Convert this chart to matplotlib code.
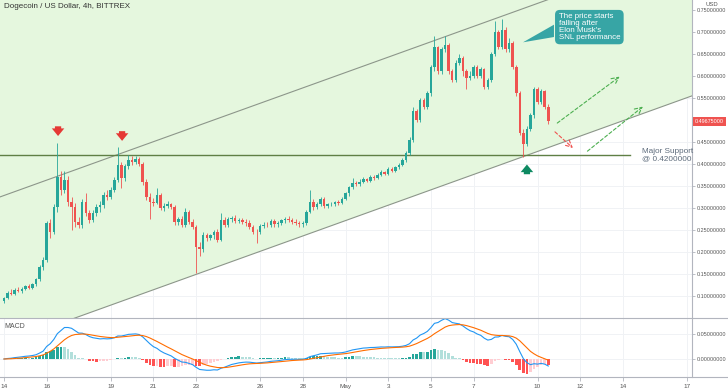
import matplotlib
matplotlib.use("Agg")
import matplotlib.pyplot as plt
import numpy as np
import pandas as pd
from matplotlib.lines import Line2D
from matplotlib.patches import Polygon
import matplotlib.transforms as mtransforms

plt.rcParams['font.family'] = ['Liberation Sans', 'DejaVu Sans']

# ---------------- data (4h candles, bar index 0 = Apr 14 00:00) ----------------
opens = [0.088, 0.095, 0.108, 0.105, 0.114, 0.112, 0.117, 0.122, 0.119, 0.127,
         0.138, 0.166, 0.182, 0.266, 0.245, 0.302, 0.370, 0.341, 0.364, 0.314,
         0.302, 0.268, 0.262, 0.314, 0.289, 0.273, 0.289, 0.302, 0.307, 0.330,
         0.325, 0.341, 0.364, 0.398, 0.368, 0.395, 0.409, 0.405, 0.412, 0.400,
         0.359, 0.325, 0.314, 0.312, 0.330, 0.300, 0.305, 0.308, 0.302, 0.268,
         0.274, 0.262, 0.290, 0.268, 0.257, 0.212, 0.208, 0.239, 0.232, 0.238,
         0.245, 0.228, 0.273, 0.262, 0.275, 0.278, 0.271, 0.273, 0.269, 0.266,
         0.257, 0.246, 0.245, 0.260, 0.262, 0.261, 0.270, 0.263, 0.266, 0.272,
         0.276, 0.272, 0.268, 0.266, 0.263, 0.266, 0.291, 0.314, 0.302, 0.310,
         0.321, 0.305, 0.308, 0.310, 0.313, 0.311, 0.321, 0.333, 0.347, 0.357,
         0.354, 0.360, 0.365, 0.362, 0.370, 0.368, 0.375, 0.382, 0.378, 0.388,
         0.385, 0.392, 0.398, 0.410, 0.425, 0.455, 0.520, 0.500, 0.545, 0.530,
         0.560, 0.620, 0.665, 0.610, 0.660, 0.670, 0.610, 0.590, 0.630, 0.640,
         0.610, 0.595, 0.600, 0.620, 0.600, 0.615, 0.575, 0.590, 0.650, 0.700,
         0.665, 0.705, 0.660, 0.675, 0.620, 0.560, 0.470, 0.445, 0.480, 0.510,
         0.570, 0.540, 0.565, 0.530]
closes = [0.095, 0.108, 0.105, 0.114, 0.112, 0.117, 0.122, 0.119, 0.127, 0.138,
          0.166, 0.182, 0.266, 0.245, 0.302, 0.370, 0.341, 0.364, 0.314, 0.302,
          0.268, 0.262, 0.314, 0.289, 0.273, 0.289, 0.302, 0.307, 0.330, 0.325,
          0.341, 0.364, 0.398, 0.368, 0.395, 0.409, 0.405, 0.412, 0.400, 0.359,
          0.325, 0.314, 0.312, 0.330, 0.300, 0.305, 0.308, 0.302, 0.268, 0.274,
          0.262, 0.290, 0.268, 0.257, 0.212, 0.208, 0.239, 0.232, 0.238, 0.245,
          0.228, 0.273, 0.262, 0.275, 0.278, 0.271, 0.273, 0.269, 0.266, 0.257,
          0.246, 0.245, 0.260, 0.262, 0.261, 0.270, 0.263, 0.266, 0.272, 0.276,
          0.272, 0.268, 0.266, 0.263, 0.266, 0.291, 0.314, 0.302, 0.310, 0.321,
          0.305, 0.308, 0.310, 0.313, 0.311, 0.321, 0.333, 0.347, 0.357, 0.354,
          0.360, 0.365, 0.362, 0.370, 0.368, 0.375, 0.382, 0.378, 0.388, 0.385,
          0.392, 0.398, 0.410, 0.425, 0.455, 0.520, 0.500, 0.545, 0.530, 0.560,
          0.620, 0.665, 0.610, 0.660, 0.670, 0.610, 0.590, 0.630, 0.640, 0.610,
          0.595, 0.600, 0.620, 0.600, 0.615, 0.575, 0.590, 0.650, 0.700, 0.665,
          0.705, 0.660, 0.675, 0.620, 0.560, 0.470, 0.445, 0.480, 0.510, 0.570,
          0.540, 0.565, 0.530, 0.49675]
highs = [0.098, 0.112, 0.116, 0.118, 0.121, 0.120, 0.125, 0.127, 0.130, 0.142,
         0.170, 0.188, 0.270, 0.275, 0.308, 0.448, 0.385, 0.385, 0.372, 0.325,
         0.312, 0.280, 0.320, 0.335, 0.296, 0.295, 0.308, 0.315, 0.336, 0.340,
         0.348, 0.370, 0.438, 0.405, 0.400, 0.420, 0.418, 0.418, 0.416, 0.405,
         0.365, 0.335, 0.322, 0.345, 0.335, 0.312, 0.315, 0.312, 0.306, 0.280,
         0.282, 0.300, 0.296, 0.275, 0.262, 0.222, 0.245, 0.244, 0.242, 0.250,
         0.252, 0.289, 0.280, 0.280, 0.282, 0.284, 0.278, 0.278, 0.276, 0.272,
         0.262, 0.252, 0.264, 0.268, 0.268, 0.276, 0.274, 0.270, 0.276, 0.280,
         0.282, 0.278, 0.274, 0.270, 0.270, 0.296, 0.341, 0.320, 0.314, 0.326,
         0.324, 0.312, 0.314, 0.316, 0.318, 0.325, 0.336, 0.350, 0.368, 0.362,
         0.365, 0.370, 0.368, 0.374, 0.374, 0.380, 0.386, 0.385, 0.392, 0.392,
         0.396, 0.402, 0.414, 0.430, 0.460, 0.530, 0.525, 0.550, 0.550, 0.565,
         0.625, 0.690, 0.668, 0.665, 0.690, 0.675, 0.615, 0.635, 0.650, 0.645,
         0.615, 0.610, 0.625, 0.625, 0.620, 0.618, 0.595, 0.655, 0.725, 0.705,
         0.730, 0.710, 0.685, 0.680, 0.625, 0.565, 0.480, 0.485, 0.515, 0.575,
         0.575, 0.570, 0.568, 0.535]
lows = [0.084, 0.093, 0.102, 0.103, 0.109, 0.108, 0.114, 0.116, 0.117, 0.124,
        0.134, 0.160, 0.178, 0.232, 0.240, 0.290, 0.330, 0.335, 0.305, 0.250,
        0.258, 0.255, 0.255, 0.282, 0.265, 0.268, 0.282, 0.292, 0.300, 0.318,
        0.320, 0.336, 0.358, 0.345, 0.362, 0.388, 0.398, 0.400, 0.395, 0.352,
        0.318, 0.275, 0.305, 0.308, 0.296, 0.294, 0.300, 0.298, 0.262, 0.262,
        0.258, 0.258, 0.264, 0.252, 0.152, 0.190, 0.200, 0.226, 0.228, 0.230,
        0.222, 0.225, 0.258, 0.258, 0.268, 0.266, 0.266, 0.264, 0.260, 0.252,
        0.240, 0.220, 0.240, 0.255, 0.256, 0.258, 0.258, 0.258, 0.262, 0.266,
        0.268, 0.264, 0.262, 0.258, 0.258, 0.262, 0.288, 0.296, 0.298, 0.304,
        0.300, 0.300, 0.304, 0.304, 0.306, 0.308, 0.318, 0.328, 0.344, 0.350,
        0.350, 0.356, 0.358, 0.360, 0.364, 0.365, 0.372, 0.374, 0.375, 0.382,
        0.382, 0.388, 0.395, 0.405, 0.420, 0.450, 0.495, 0.495, 0.525, 0.525,
        0.555, 0.612, 0.605, 0.605, 0.655, 0.605, 0.585, 0.585, 0.625, 0.600,
        0.570, 0.590, 0.595, 0.595, 0.595, 0.570, 0.570, 0.585, 0.645, 0.660,
        0.660, 0.655, 0.655, 0.615, 0.555, 0.465, 0.415, 0.440, 0.475, 0.505,
        0.535, 0.535, 0.525, 0.490]

day_tick_bars = [0, 12, 30, 42, 54, 72, 84, 96, 108, 120, 132, 150, 162, 174, 192]
day_tick_labels = ['14', '16', '19', '21', '23', '26', '28', 'May', '3', '5', '7',
                   '10', '12', '14', '17']
price_ticks = [0.10, 0.15, 0.20, 0.25, 0.30, 0.35, 0.40, 0.45, 0.55, 0.60, 0.65, 0.70, 0.75]
macd_ticks = [0.0, 0.05]
last_price = 0.49675
support_level = 0.42
# parallel channel anchors (bar, price)
chan_bars = [-1.2, 193.5]
chan_upper = [0.3249, 0.8908]
chan_lower = [-0.0111, 0.5548]

# ---------------- derived ----------------
o = np.array(opens); c = np.array(closes); h = np.array(highs); l = np.array(lows)
x = np.arange(len(c))
close_s = pd.Series(c)
macd = close_s.ewm(span=12, adjust=False).mean() - close_s.ewm(span=26, adjust=False).mean()
signal = macd.ewm(span=9, adjust=False).mean()
hist = (macd - signal).values

UP, DN = '#26a69a', '#ef5350'
cols = np.where(c >= o, UP, DN)

W, H = 728, 390
fig = plt.figure(figsize=(W / 100, H / 100), dpi=100)
fig.patch.set_facecolor('white')
right_px = 692
main_bot, main_top = 318, 0
macd_bot = 377
ax = fig.add_axes([0, 1 - main_bot / H, right_px / W, (main_bot - main_top) / H])
axm = fig.add_axes([0, 1 - macd_bot / H, right_px / W, (macd_bot - main_bot) / H], sharex=ax)

XL = (-1.12, 193.4)
for a in (ax, axm):
    a.set_facecolor('white')
    for s in ('top', 'left', 'bottom'):
        a.spines[s].set_visible(False)
    a.spines['right'].set_color('#b2b5be')
    a.spines['right'].set_linewidth(0.8)
    a.yaxis.tick_right()
    a.tick_params(axis='y', length=2.5, width=0.6, color='#b2b5be', labelsize=3.9,
                  labelcolor='#555555', pad=1.0)
    a.set_xlim(*XL)
    for tb in day_tick_bars:
        a.axvline(tb, color='#f0f2f5', lw=0.7, zorder=0)

ax.set_ylim(0.0504, 0.772)
ax.set_yticks(price_ticks)
ax.set_yticklabels([f'{v:.8f}' for v in price_ticks])
for v in price_ticks:
    ax.axhline(v, color='#f0f2f5', lw=0.7, zorder=0)
ax.tick_params(axis='x', bottom=False, labelbottom=False)

# channel
cb = np.array(chan_bars)
ax.fill_between(cb, chan_lower, np.maximum(chan_upper, 0.8), color='#e5f7de', zorder=1, lw=0)
ax.plot(cb, chan_upper, color='#8c968a', lw=0.8, zorder=2)
ax.plot(cb, chan_lower, color='#8c968a', lw=0.8, zorder=2)

# support
ax.plot([XL[0], 176], [support_level, support_level], color='#5f7f45', lw=1.0, zorder=2)
ax.text(179.3, support_level, 'Major Support\n@ 0.4200000', fontsize=5.9, color='#5d6b7b',
        va='center', ha='left', linespacing=0.95, zorder=5)

# candles
body = np.maximum(np.abs(c - o), 0.0015)
ax.vlines(x, l, h, color=cols, lw=0.6, zorder=3)
ax.bar(x, body, bottom=np.minimum(o, c), width=0.7, color=cols, zorder=4, lw=0)

# arrows
for bx, tip in [(15.2, 0.457), (33.2, 0.446)]:
    ax.annotate('', xy=(bx, tip), xytext=(0, 11), textcoords='offset points',
                arrowprops=dict(arrowstyle='simple,head_width=0.9,head_length=0.55,tail_width=0.45',
                                color='#e53935', lw=0))
ax.annotate('', xy=(147.0, 0.405), xytext=(0, -11), textcoords='offset points',
            arrowprops=dict(arrowstyle='simple,head_width=0.9,head_length=0.55,tail_width=0.45',
                            color='#0e8a62', lw=0))

# dashed projections
dash_kw = dict(arrowstyle='->,head_width=0.25,head_length=0.5', lw=0.8, linestyle=(0, (3, 2)))
ax.annotate('', xy=(173.7, 0.602), xytext=(154.9, 0.489),
            arrowprops=dict(color='#4caf50', **dash_kw))
ax.annotate('', xy=(160.5, 0.432), xytext=(154.3, 0.477),
            arrowprops=dict(color='#ef5350', **dash_kw))
ax.annotate('', xy=(180.2, 0.534), xytext=(163.4, 0.425),
            arrowprops=dict(color='#4caf50', **dash_kw))

# callout
ax.text(155.9, 0.7105, "The price starts\nfalling after\nElon Musk's\nSNL performance",
        fontsize=5.7, color='white', va='center', ha='left', linespacing=0.95, zorder=6,
        bbox=dict(boxstyle='round,pad=0.45,rounding_size=0.6', fc='#37a5a5', ec='none'))
ax.add_patch(Polygon([(154.6, 0.716), (154.6, 0.688), (145.9, 0.676)], closed=True,
                     fc='#37a5a5', ec='none', zorder=6))

# current price label
trans = mtransforms.blended_transform_factory(ax.transAxes, ax.transData)
ax.text(1.004, last_price, f'{last_price:.8f}', transform=trans, fontsize=3.9, color='white',
        va='center', ha='left', zorder=10, clip_on=False,
        bbox=dict(boxstyle='square,pad=0.35', fc='#ef5350', ec='none'))

# MACD panel
hcols = []
prev = 0.0
for hv in hist:
    if hv >= 0:
        hcols.append('#26a69a' if hv >= prev else '#b2dfdb')
    else:
        hcols.append('#ff5252' if hv <= prev else '#ffcdd2')
    prev = hv
axm.bar(x, hist, width=0.75, color=hcols, lw=0, zorder=2)
axm.plot(x, macd.values, color='#2196f3', lw=0.8, zorder=3)
axm.plot(x, signal.values, color='#ff6d00', lw=0.8, zorder=3)
axm.set_ylim(-0.036, 0.082)
axm.set_yticks(macd_ticks)
axm.set_yticklabels([f'{v:.8f}' for v in macd_ticks])
for v in macd_ticks:
    axm.axhline(v, color='#f0f2f5', lw=0.7, zorder=0)
axm.set_xticks(day_tick_bars)
axm.set_xticklabels(day_tick_labels)
axm.tick_params(axis='x', length=3, width=0.6, color='#b2b5be', labelsize=4.6,
                labelcolor='#555555', pad=2)
axm.text(0.006, 0.86, 'MACD', transform=axm.transAxes, fontsize=5, color='#555555',
         va='center', ha='left')

# separators
for yy in (main_bot, macd_bot):
    fig.add_artist(Line2D([0, 1], [1 - yy / H, 1 - yy / H], color='#b2b5be', lw=0.8))

fig.text(4 / W, 1 - 7 / H, 'Dogecoin / US Dollar, 4h, BITTREX', fontsize=5.8, color='#333333',
         va='center', ha='left')
fig.text(712 / W, 1 - 5 / H, 'USD', fontsize=4.2, color='#555555', va='center', ha='center')

fig.savefig('out.png', dpi=100)
